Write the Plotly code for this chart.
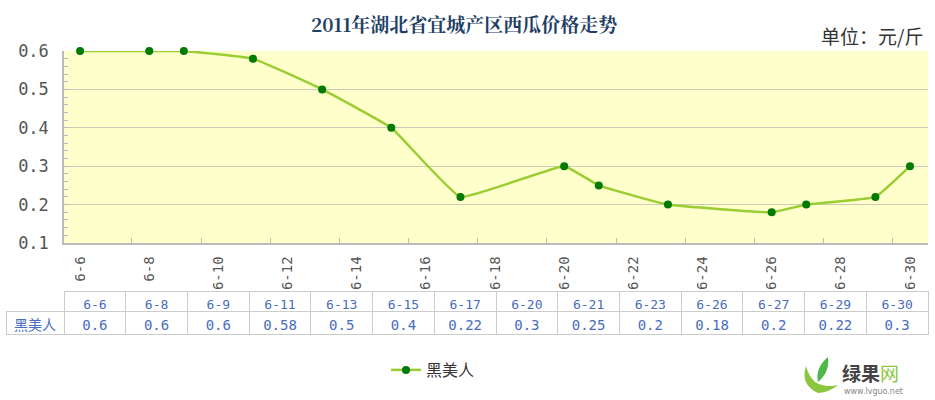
import plotly.graph_objects as go

# ---- data ----
dates = ["2011-06-06", "2011-06-08", "2011-06-09", "2011-06-11", "2011-06-13",
         "2011-06-15", "2011-06-17", "2011-06-20", "2011-06-21", "2011-06-23",
         "2011-06-26", "2011-06-27", "2011-06-29", "2011-06-30"]
date_labels = ["6-6", "6-8", "6-9", "6-11", "6-13", "6-15", "6-17", "6-20",
               "6-21", "6-23", "6-26", "6-27", "6-29", "6-30"]
prices = [0.6, 0.6, 0.6, 0.58, 0.5, 0.4, 0.22, 0.3, 0.25, 0.2, 0.18, 0.2, 0.22, 0.3]
series_name = "黑美人"
title_text = "2011年湖北省宜城产区西瓜价格走势"
unit_text = "单位：元/斤"

W, H = 935, 400


def px(x):
    return x / W


def py(y):
    return 1 - y / H


MONO = "DejaVu Sans Mono, Noto Sans CJK SC, sans-serif"
CJK = "Noto Sans CJK SC, sans-serif"

fig = go.Figure()

fig.add_trace(go.Scatter(
    x=dates, y=prices, name=series_name, mode="lines+markers",
    line=dict(color="#9ACD32", width=2.5, shape="spline", smoothing=0.3),
    marker=dict(color="#007A00", size=8),
    cliponaxis=False,
    xaxis="x", yaxis="y",
))

# invisible trace on second x axis for inside tick marks
fig.add_trace(go.Scatter(x=[dates[0], dates[-1]], y=[prices[0], prices[-1]],
                         mode="markers", marker=dict(opacity=0), showlegend=False,
                         hoverinfo="skip", xaxis="x2", yaxis="y"))

fig.add_trace(go.Table(
    domain=dict(x=[px(6), px(928)], y=[py(340), py(291)]),
    columnwidth=[58] + [61.7] * len(date_labels),
    header=dict(
        values=[""] + date_labels,
        height=20,
        align="center",
        fill=dict(color="white"),
        line=dict(color=["rgba(255,255,255,0)"] + ["#CCCCCC"] * len(date_labels), width=1),
        font=dict(family=MONO, size=13, color="#4A6CC0"),
    ),
    cells=dict(
        values=[[series_name]] + [[str(v)] for v in prices],
        height=23,
        align="center",
        fill=dict(color="white"),
        line=dict(color="#CCCCCC", width=1),
        font=dict(family=MONO, size=14, color="#4A6CC0"),
    ),
))

x_range = ["2011-06-05 12:50", "2011-06-30 12:30"]

fig.update_layout(
    width=W, height=H,
    margin=dict(l=0, r=0, t=0, b=0, autoexpand=False),
    paper_bgcolor="white",
    plot_bgcolor="#FFFFCC",
    showlegend=True,
    legend=dict(orientation="h", x=px(386), xanchor="left", y=py(370), yanchor="middle",
                font=dict(family=CJK, size=16, color="#333333"), itemwidth=30,
                bgcolor="rgba(0,0,0,0)"),
    xaxis=dict(
        domain=[px(64), px(928)], anchor="y", type="date", range=x_range,
        tick0="2011-06-06", dtick=2 * 86400000, tickformat="%-m-%-d",
        tickangle=-90, ticks="", showgrid=False, zeroline=False,
        showline=True, linecolor="#BBBBBB", linewidth=1.5,
        ticklabelstandoff=6, automargin=False,
        tickfont=dict(family=MONO, size=14, color="#555555"),
    ),
    xaxis2=dict(
        domain=[px(64), px(928)], anchor="y", overlaying="x", side="bottom",
        type="date", range=x_range, tick0="2011-06-07 12:00", dtick=2 * 86400000,
        ticks="inside", ticklen=5, tickcolor="#BBBBBB", tickwidth=1,
        showticklabels=False, showgrid=False, zeroline=False, showline=False,
        automargin=False,
    ),
    yaxis=dict(
        domain=[py(243), py(51)], range=[0.1, 0.6], dtick=0.1, tick0=0.1,
        tickformat=".1f", showgrid=True, gridcolor="#CCCCBB", gridwidth=1,
        zeroline=False, showline=True, linecolor="#BBBBBB", linewidth=1.5,
        ticks="inside", ticklen=5, tickcolor="#BBBBBB", automargin=False,
        minor=dict(dtick=0.02, ticks="inside", ticklen=4, tickcolor="#BBBBBB", showgrid=False),
        tickfont=dict(family=MONO, size=17, color="#555555"),
        ticklabelstandoff=10,
    ),
)

# title and unit
fig.add_annotation(text=title_text, xref="paper", yref="paper", x=px(464), y=py(23),
                   xanchor="center", yanchor="middle", showarrow=False,
                   font=dict(family="Noto Serif CJK SC, Noto Sans CJK SC, serif", size=19,
                             color="#1F3F66", weight="bold"))
fig.add_annotation(text=unit_text, xref="paper", yref="paper", x=px(925), y=py(35),
                   xanchor="right", yanchor="middle", showarrow=False,
                   font=dict(family=CJK, size=19, color="#333333"))

# logo
fig.add_shape(type="path", xref="paper", yref="paper",
              path=f"M {px(806)} {py(366)} Q {px(800)} {py(385)} {px(818)} {py(393)} "
                   f"Q {px(830)} {py(392)} {px(838)} {py(385)} Q {px(825)} {py(388)} "
                   f"{px(815)} {py(382)} Q {px(808)} {py(375)} {px(806)} {py(366)} Z",
              fillcolor="#8CC63F", line=dict(width=0))
fig.add_shape(type="path", xref="paper", yref="paper",
              path=f"M {px(828)} {py(357)} Q {px(815)} {py(368)} {px(818)} {py(382)} "
                   f"Q {px(830)} {py(372)} {px(828)} {py(357)} Z",
              fillcolor="#4DB848", line=dict(width=0))
fig.add_annotation(text="<b>绿果</b><span style='color:#8CC63F'>网</span>", xref="paper",
                   yref="paper", x=px(840), y=py(372), xanchor="left", yanchor="middle",
                   showarrow=False, font=dict(family=CJK, size=19, color="#444444"))
fig.add_annotation(text="www.lvguo.net", xref="paper", yref="paper", x=px(842), y=py(391),
                   xanchor="left", yanchor="middle", showarrow=False,
                   font=dict(family="DejaVu Sans, sans-serif", size=8, color="#888888"))

fig.write_html("out.html", config={"displayModeBar": False},
               post_script="document.body.style.margin='0';document.body.style.overflow='hidden';")
